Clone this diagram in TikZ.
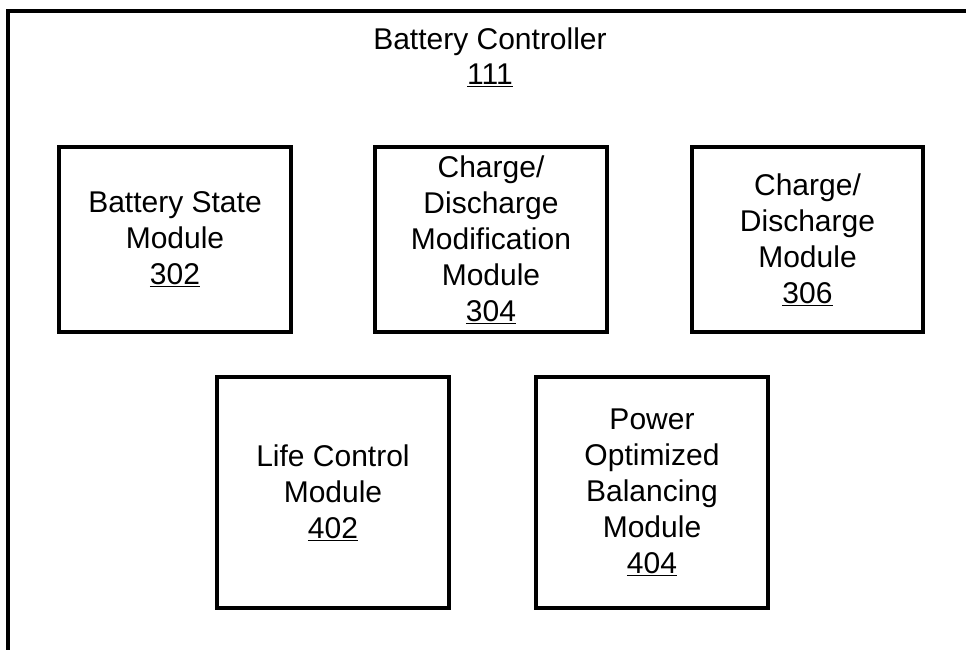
\documentclass[tikz,border=0pt]{standalone}
\usepackage{fontspec}
\setmainfont{Liberation Sans}
\begin{document}
\begin{tikzpicture}[x=1pt,y=-1pt,
  modbox/.style={draw=black, line width=3.2pt, fill=white, align=center, inner sep=0pt,
    minimum width=232pt, font=\fontsize{30}{36}\selectfont},
  toprow/.style={modbox, minimum height=185pt},
  botrow/.style={modbox, minimum height=231pt},
  title/.style={align=center, inner sep=0pt, font=\fontsize{30}{35}\selectfont}]
\useasboundingbox (0,0) rectangle (966,649);
\draw[line width=3.4pt] (8,652) coordinate (fbl) -- (8,11) coordinate (ftl) -- (970,11) coordinate (ftr);
\node[title] (ctrl) at (490,57) {Battery Controller\\\underline{111}};
\node[toprow] (m302) at (175,239.5) {Battery State\\Module\\\underline{302}};
\node[toprow] (m304) at (491,239.5) {Charge/\\Discharge\\Modification\\Module\\\underline{304}};
\node[toprow, minimum width=231pt] (m306) at (807.5,239.5) {Charge/\\Discharge\\Module\\\underline{306}};
\node[botrow] (m402) at (333,492.5) {Life Control\\Module\\\underline{402}};
\node[botrow] (m404) at (652,492.5) {Power\\Optimized\\Balancing\\Module\\\underline{404}};
\end{tikzpicture}
\end{document}
